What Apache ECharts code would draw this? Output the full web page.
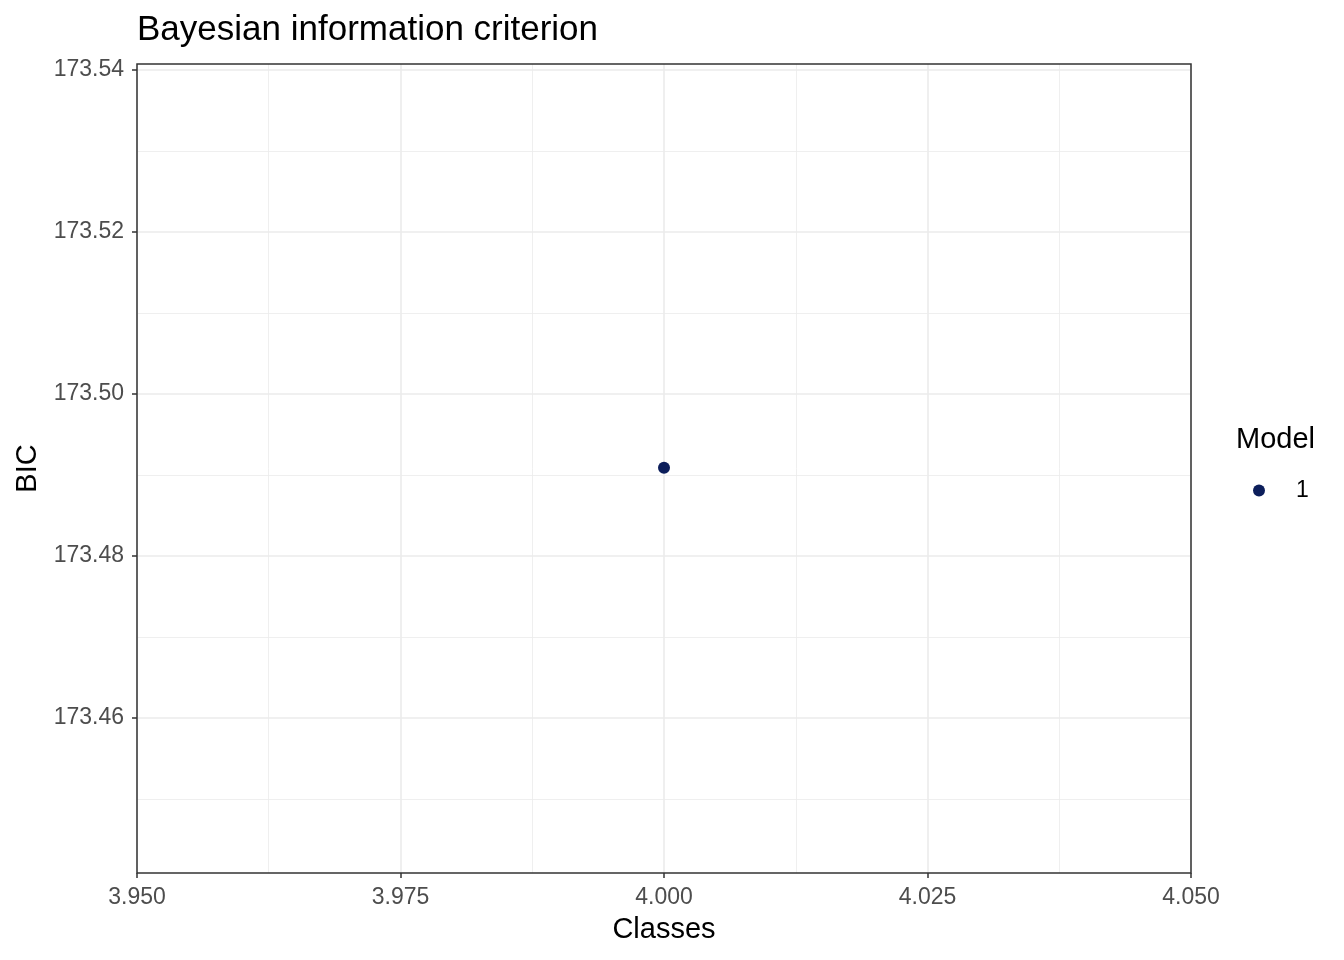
<!DOCTYPE html>
<html><head><meta charset="utf-8">
<script src="https://cdn.jsdelivr.net/npm/echarts@6/dist/echarts.min.js"></script>
<style>html,body{margin:0;padding:0;background:#fff}#c{width:1344px;height:960px}</style>
</head><body><div id="c"></div>
<script>
const classes = [4.0];
const bic = [173.4909];
const models = ['1'];
const xMajor = [3.950, 3.975, 4.000, 4.025, 4.050];
const xMinor = [3.9625, 3.9875, 4.0125, 4.0375];
const yMajor = [173.46, 173.48, 173.50, 173.52, 173.54];
const yMinor = [173.45, 173.47, 173.49, 173.51, 173.53];
const xRange = [3.95, 4.05];
const yRange = [173.44086, 173.54074];

const font = 'Liberation Sans';
const chart = echarts.init(document.getElementById('c'), null, {renderer: 'canvas'});
const common = {type: 'value', gridIndex: 0};
chart.setOption({
  animation: false,
  backgroundColor: '#fff',
  title: [
    {text: 'Bayesian information criterion', left: 137, top: 13, padding: 0,
     textStyle: {fontFamily: font, fontSize: 35, fontWeight: 'normal', color: '#000'}},
    {text: 'Model', left: 1236, top: 425, padding: 0,
     textStyle: {fontFamily: font, fontSize: 29, fontWeight: 'normal', color: '#000'}}
  ],
  legend: {
    data: models, left: 1253, top: 479, padding: 0, orient: 'vertical',
    itemWidth: 12, itemHeight: 12, icon: 'circle',
    textStyle: {fontFamily: font, fontSize: 23, color: '#000', padding: [2, 0, 0, 26]}
  },
  grid: {left: 137, right: 153, top: 64, bottom: 87, show: true, z: 5,
         borderColor: '#333333', borderWidth: 1.5, backgroundColor: 'transparent'},
  xAxis: [
    Object.assign({}, common, {
      min: xRange[0], max: xRange[1], position: 'bottom',
      name: 'Classes', nameLocation: 'middle', nameGap: 42,
      nameTextStyle: {fontFamily: font, fontSize: 29, color: '#000'},
      axisLine: {show: false},
      axisTick: {show: true, length: 5, lineStyle: {color: '#333333', width: 1.5}, customValues: xMajor},
      axisLabel: {customValues: xMajor, margin: 13, fontFamily: font, fontSize: 23, color: '#4D4D4D',
                  formatter: v => v.toFixed(3)},
      splitLine: {show: true, lineStyle: {color: '#EBEBEB', width: 1.6}}
    }),
    Object.assign({}, common, {
      min: xRange[0], max: xRange[1], position: 'bottom',
      axisLine: {show: false},
      axisTick: {show: false, customValues: xMinor},
      axisLabel: {show: false, customValues: xMinor},
      splitLine: {show: true, lineStyle: {color: '#EBEBEB', width: 0.8}}
    })
  ],
  yAxis: [
    Object.assign({}, common, {
      min: yRange[0], max: yRange[1], position: 'left',
      name: 'BIC', nameLocation: 'middle', nameGap: 95,
      nameTextStyle: {fontFamily: font, fontSize: 29, color: '#000'},
      axisLine: {show: false},
      axisTick: {show: true, length: 5, lineStyle: {color: '#333333', width: 1.5}, customValues: yMajor},
      axisLabel: {customValues: yMajor, margin: 13, fontFamily: font, fontSize: 23, color: '#4D4D4D',
                  padding: [3, 0, 0, 0], formatter: v => v.toFixed(2)},
      splitLine: {show: true, lineStyle: {color: '#EBEBEB', width: 1.6}}
    }),
    Object.assign({}, common, {
      min: yRange[0], max: yRange[1], position: 'left',
      axisLine: {show: false},
      axisTick: {show: false, customValues: yMinor},
      axisLabel: {show: false, customValues: yMinor},
      splitLine: {show: true, lineStyle: {color: '#EBEBEB', width: 0.8}}
    })
  ],
  series: [{
    name: models[0], type: 'scatter', xAxisIndex: 0, yAxisIndex: 0,
    symbol: 'circle', symbolSize: 12, z: 10,
    itemStyle: {color: '#0C1E5B', opacity: 1},
    data: classes.map((c, i) => [c, bic[i]])
  }]
});
</script></body></html>
